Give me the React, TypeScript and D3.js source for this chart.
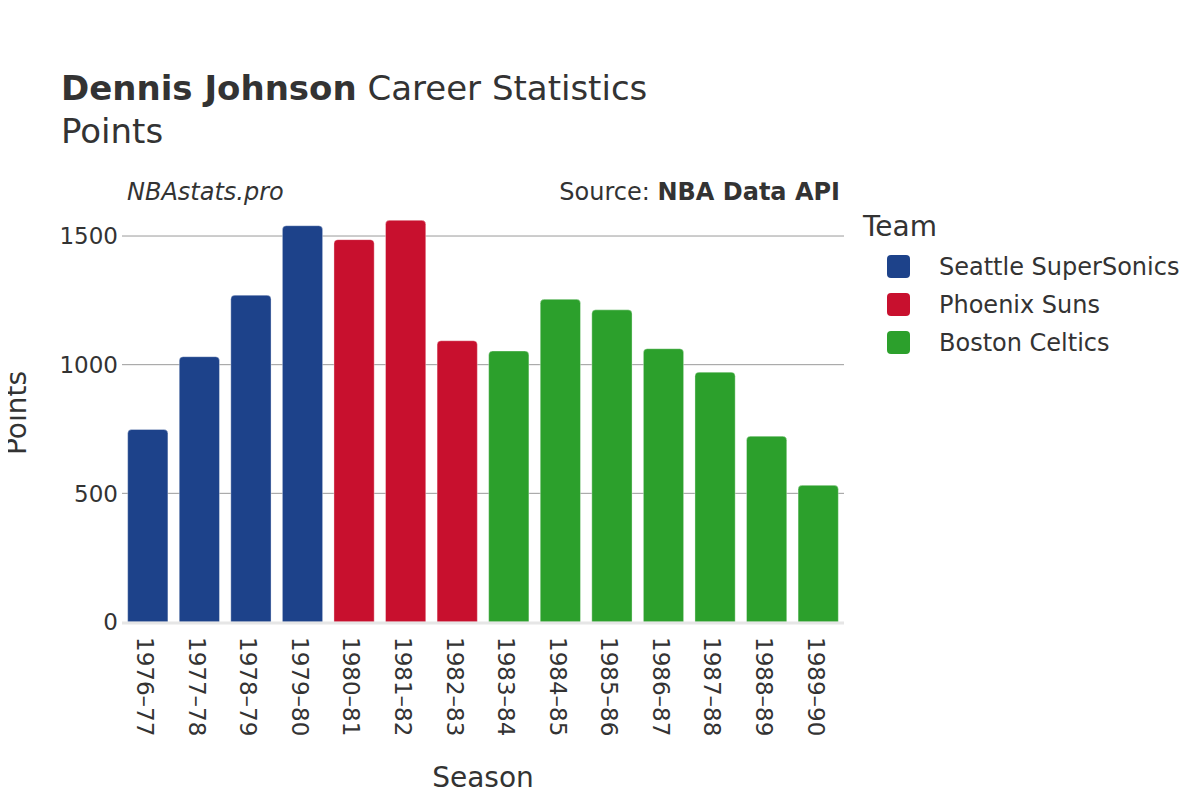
import { useEffect, useRef } from 'react';
import * as d3 from 'd3';

const seasons = [
  '1976–77', '1977–78', '1978–79', '1979–80', '1980–81', '1981–82', '1982–83',
  '1983–84', '1984–85', '1985–86', '1986–87', '1987–88', '1988–89', '1989–90',
];
const points = [748, 1031, 1270, 1540, 1486, 1561, 1093, 1053, 1254, 1213, 1062, 971, 722, 531];
const teams = [
  'Seattle SuperSonics', 'Seattle SuperSonics', 'Seattle SuperSonics', 'Seattle SuperSonics',
  'Phoenix Suns', 'Phoenix Suns', 'Phoenix Suns',
  'Boston Celtics', 'Boston Celtics', 'Boston Celtics', 'Boston Celtics', 'Boston Celtics',
  'Boston Celtics', 'Boston Celtics',
];
const teamNames = ['Seattle SuperSonics', 'Phoenix Suns', 'Boston Celtics'];
const teamColors = ['#1d428a', '#c8102e', '#2ca02c'];
const yTicks = [0, 500, 1000, 1500];

const FONT = '"DejaVu Sans", Verdana, sans-serif';
const TEXT = '#333333';

export default function App() {
  const svgRef = useRef<SVGSVGElement>(null);

  useEffect(() => {
    if (!svgRef.current) return;
    const svg = d3.select(svgRef.current);
    svg.selectAll('*').remove();

    const left = 122;
    const right = 844;
    const top = 200;
    const bottom = 622;

    const x = d3.scaleBand<string>().domain(seasons).range([left, right]).paddingInner(0.22).paddingOuter(0.11);
    const y = d3.scaleLinear().domain([0, 1640]).range([bottom, top]);
    const color = d3.scaleOrdinal<string, string>().domain(teamNames).range(teamColors);

    // grid
    svg.append('g')
      .selectAll('line')
      .data(yTicks.filter((t) => t > 0))
      .enter()
      .append('line')
      .attr('x1', left)
      .attr('x2', right)
      .attr('y1', (d) => y(d))
      .attr('y2', (d) => y(d))
      .style('stroke', '#9a9a9a')
      .style('stroke-width', 1);

    // y tick labels
    svg.append('g')
      .selectAll('text')
      .data(yTicks)
      .enter()
      .append('text')
      .attr('x', 118)
      .attr('y', (d) => y(d))
      .attr('dy', '0.36em')
      .attr('text-anchor', 'end')
      .style('font-family', FONT)
      .style('font-size', '23px')
      .style('fill', TEXT)
      .text((d) => String(d));

    // bars with rounded top corners
    const r = 4;
    const bw = x.bandwidth();
    svg.append('g')
      .selectAll('path')
      .data(seasons)
      .enter()
      .append('path')
      .attr('d', (s, i) => {
        const x0 = x(s) as number;
        const y0 = y(points[i]);
        return `M${x0},${bottom}V${y0 + r}Q${x0},${y0} ${x0 + r},${y0}H${x0 + bw - r}Q${x0 + bw},${y0} ${x0 + bw},${y0 + r}V${bottom}Z`;
      })
      .style('fill', (_s, i) => color(teams[i]))
      .style('stroke', 'rgba(255,255,255,0.35)')
      .style('stroke-width', 1);

    // baseline
    svg.append('line')
      .attr('x1', left)
      .attr('x2', right)
      .attr('y1', bottom + 1)
      .attr('y2', bottom + 1)
      .style('stroke', '#e6e6e6')
      .style('stroke-width', 3);

    // x tick labels
    svg.append('g')
      .selectAll('text')
      .data(seasons)
      .enter()
      .append('text')
      .attr('transform', (s) => `translate(${(x(s) as number) + bw / 2},637) rotate(90)`)
      .attr('dy', '0.46em')
      .attr('text-anchor', 'start')
      .style('font-family', FONT)
      .style('font-size', '23px')
      .style('fill', TEXT)
      .text((s) => s);

    // titles
    const title = svg.append('text')
      .attr('x', 61)
      .attr('y', 100)
      .style('font-family', FONT)
      .style('font-size', '34px')
      .style('fill', TEXT);
    title.append('tspan').style('font-weight', 'bold').text('Dennis Johnson');
    title.append('tspan').text(' Career Statistics');

    svg.append('text')
      .attr('x', 61)
      .attr('y', 143)
      .style('font-family', FONT)
      .style('font-size', '34px')
      .style('fill', TEXT)
      .text('Points');

    svg.append('text')
      .attr('x', 127)
      .attr('y', 200)
      .style('font-family', FONT)
      .style('font-size', '24px')
      .style('font-style', 'italic')
      .style('fill', TEXT)
      .text('NBAstats.pro');

    const src = svg.append('text')
      .attr('x', 840)
      .attr('y', 200)
      .attr('text-anchor', 'end')
      .style('font-family', FONT)
      .style('font-size', '24px')
      .style('fill', TEXT);
    src.append('tspan').text('Source: ');
    src.append('tspan').style('font-weight', 'bold').text('NBA Data API');

    // axis titles
    svg.append('text')
      .attr('transform', 'translate(26,413) rotate(-90)')
      .attr('text-anchor', 'middle')
      .style('font-family', FONT)
      .style('font-size', '28px')
      .style('fill', TEXT)
      .text('Points');

    svg.append('text')
      .attr('x', 483)
      .attr('y', 787)
      .attr('text-anchor', 'middle')
      .style('font-family', FONT)
      .style('font-size', '28px')
      .style('fill', TEXT)
      .text('Season');

    // legend
    svg.append('text')
      .attr('x', 863)
      .attr('y', 236)
      .style('font-family', FONT)
      .style('font-size', '28px')
      .style('fill', TEXT)
      .text('Team');

    const item = svg.append('g')
      .selectAll('g')
      .data(teamNames)
      .enter()
      .append('g')
      .attr('transform', (_d, i) => `translate(0,${266 + i * 38})`);
    item.append('rect')
      .attr('x', 887)
      .attr('y', -11)
      .attr('width', 23)
      .attr('height', 23)
      .attr('rx', 4)
      .style('fill', (d) => color(d));
    item.append('text')
      .attr('x', 939)
      .attr('y', 0)
      .attr('dy', '0.36em')
      .style('font-family', FONT)
      .style('font-size', '24px')
      .style('fill', TEXT)
      .text((d) => d);
  }, []);

  return (
    <div>
      <svg ref={svgRef} width={1200} height={800} style={{ display: 'block', margin: '-8px' }} />
    </div>
  );
}
